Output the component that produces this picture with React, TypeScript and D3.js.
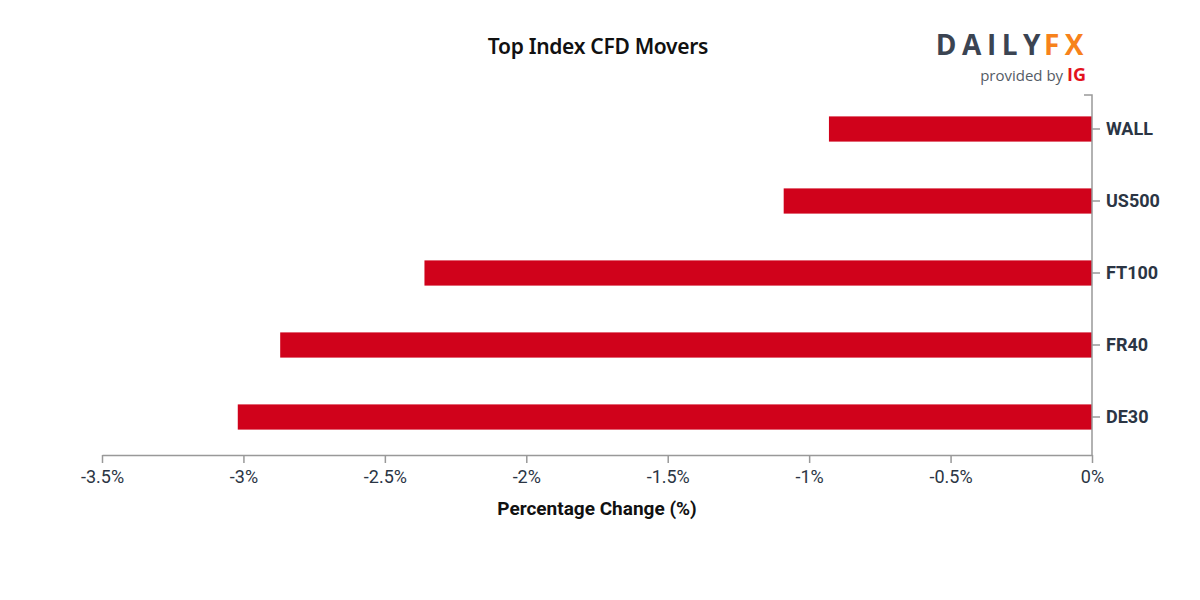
import React, { useEffect, useRef } from 'react';
import * as d3 from 'd3';

const markets = ['WALL', 'US500', 'FT100', 'FR40', 'DE30'];
const changes = [-0.93, -1.09, -2.36, -2.87, -3.02];
const tickValues = [-3.5, -3, -2.5, -2, -1.5, -1, -0.5, 0];

const W = 1200;
const H = 600;

export default function App() {
  const svgRef = useRef<SVGSVGElement>(null);

  useEffect(() => {
    if (!svgRef.current) return;
    const svg = d3.select(svgRef.current);
    svg.selectAll('*').remove();

    const left = 102;
    const right = 1092;
    const top = 95;
    const bottom = 455;

    const x = d3.scaleLinear().domain([-3.5, 0]).range([left, right]);
    const y = d3
      .scaleBand()
      .domain(markets)
      .range([top - 2, bottom - 2])
      .paddingInner(0.65)
      .paddingOuter(0.325);

    const labelFont = 'Roboto, sans-serif';

    // bars
    svg
      .append('g')
      .selectAll('rect')
      .data(markets)
      .enter()
      .append('rect')
      .attr('x', (_, i) => x(changes[i]))
      .attr('y', d => y(d)!)
      .attr('width', (_, i) => x(0) - x(changes[i]))
      .attr('height', y.bandwidth())
      .attr('fill', '#d0021b');

    // x axis
    const xAxis = svg
      .append('g')
      .attr('transform', `translate(0,${bottom})`)
      .call(
        d3
          .axisBottom(x)
          .tickValues(tickValues)
          .tickSize(8)
          .tickSizeOuter(0)
          .tickFormat(d => `${d}%`)
      );
    xAxis.select('.domain').attr('stroke', '#999').attr('stroke-width', 1.5);
    xAxis.selectAll('line').attr('stroke', '#999').attr('stroke-width', 1.5);
    xAxis
      .selectAll('text')
      .attr('fill', '#2b3544')
      .attr('dy', '0.95em')
      .style('font-family', labelFont)
      .style('font-size', '18px');

    // y axis on the right
    const yAxis = svg
      .append('g')
      .attr('transform', `translate(${right},0)`)
      .call(d3.axisRight(y).tickSize(8).tickSizeOuter(8).tickPadding(6));
    yAxis.selectAll('line').attr('stroke', '#999').attr('stroke-width', 1.5);
    yAxis
      .select('.domain')
      .attr('stroke', '#999')
      .attr('stroke-width', 1.5)
      .attr('d', `M-8,${top}H0V${bottom}`);
    yAxis
      .selectAll('text')
      .attr('fill', '#2b3544')
      .style('font-family', labelFont)
      .style('font-weight', 'bold')
      .style('font-size', '18px');

    // axis title
    svg
      .append('text')
      .attr('x', 597)
      .attr('y', 515)
      .attr('text-anchor', 'middle')
      .attr('fill', '#111')
      .style('font-family', labelFont)
      .style('font-weight', 'bold')
      .style('font-size', '19px')
      .text('Percentage Change (%)');

    // chart title
    svg
      .append('text')
      .attr('x', 598)
      .attr('y', 54)
      .attr('text-anchor', 'middle')
      .attr('fill', '#111')
      .style('font-family', '"Noto Sans", sans-serif')
      .style('font-weight', 600)
      .style('font-size', '21px')
      .style('letter-spacing', '-0.3px')
      .text('Top Index CFD Movers');

    // logo
    const logo = svg.append('g');
    const brand = logo
      .append('text')
      .attr('x', 1089)
      .attr('y', 55)
      .attr('text-anchor', 'end')
      .style('font-family', '"Open Sans", sans-serif')
      .style('font-weight', 700)
      .style('font-size', '28px')
      .style('letter-spacing', '5.5px');
    brand.append('tspan').attr('fill', '#3b4452').text('DAILY');
    brand.append('tspan').attr('fill', '#f7821b').attr('dx', '-2').text('FX');

    const sub = logo
      .append('text')
      .attr('x', 1086)
      .attr('y', 81)
      .attr('text-anchor', 'end')
      .style('font-family', '"Open Sans", sans-serif')
      .style('font-size', '15px');
    sub.append('tspan').attr('fill', '#555c66').text('provided by ');
    sub
      .append('tspan')
      .attr('fill', '#e3131d')
      .style('font-weight', 700)
      .style('font-size', '18px')
      .text('IG');
  }, []);

  return (
    <svg
      ref={svgRef}
      width={W}
      height={H}
      style={{ position: 'absolute', left: 0, top: 0, background: '#fff' }}
    />
  );
}
